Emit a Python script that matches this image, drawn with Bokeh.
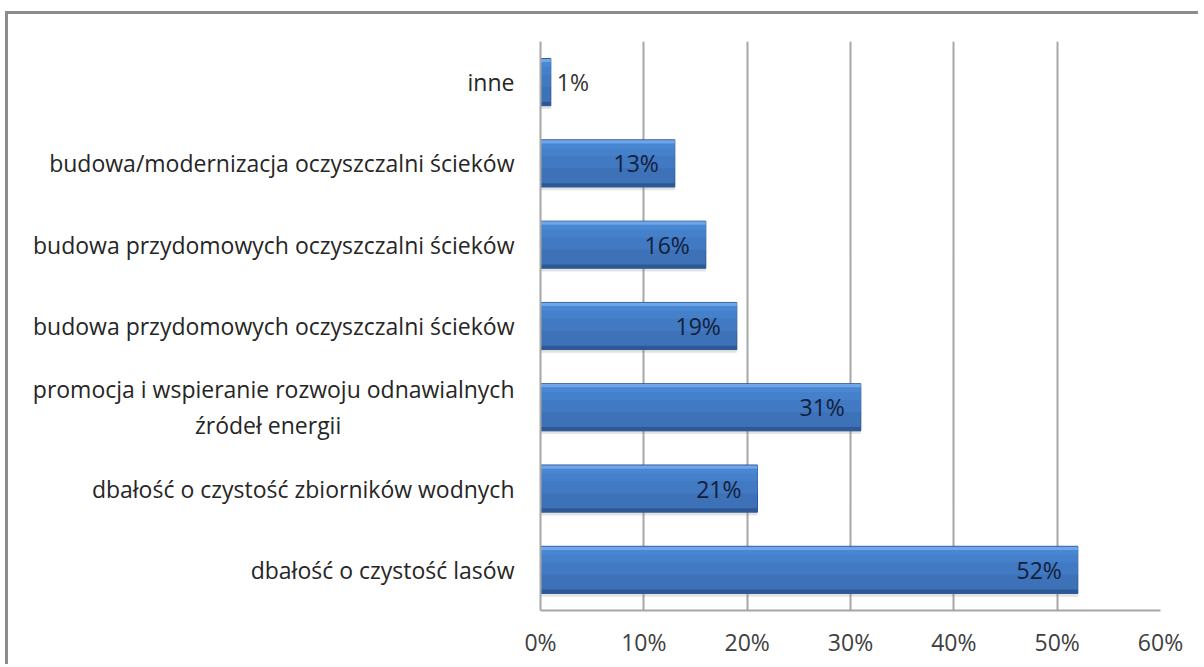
from bokeh.plotting import figure
from bokeh.models import Range1d, FixedTicker, ColumnDataSource
from bokeh.core.properties import value
from bokeh.transform import dodge
from bokeh.embed import file_html
from bokeh.resources import INLINE

# Data (top to bottom as in the picture)
categories = [
    "inne",
    "budowa/modernizacja oczyszczalni ścieków",
    "budowa przydomowych oczyszczalni ścieków",
    "budowa przydomowych oczyszczalni ścieków",
    "promocja i wspieranie rozwoju odnawialnych\nźródeł energii",
    "dbałość o czystość zbiorników wodnych",
    "dbałość o czystość lasów",
]
values = [1, 13, 16, 19, 31, 21, 52]
x_ticks = [0, 10, 20, 30, 40, 50, 60]

n = len(categories)
ypos = [n - 1 - i for i in range(n)]
labels = [f"{v}%" for v in values]

FONT = "Open Sans"
FS = "23px"
H = 0.58

p = figure(
    output_backend="svg", toolbar_location=None,
    width=1190, height=650,
    frame_width=620, frame_height=569,
    min_border_left=532, min_border_right=38, min_border_top=27, min_border_bottom=54,
    x_range=Range1d(0, 60), y_range=Range1d(-0.5, n - 0.5),
)
p.styles = {"border-left": "3px solid #8c8c8c", "border-top": "3px solid #8c8c8c",
            "margin-left": "5px", "margin-top": "11px"}
p.outline_line_color = None
p.background_fill_color = "white"
p.border_fill_color = "white"

src = ColumnDataSource(dict(y=ypos, v=values, lab=labels))

# shadow
p.hbar(y=dodge("y", -0.04, range=p.y_range), right="v", left=0, height=H, source=src,
       fill_color="#808080", fill_alpha=0.22, line_color=None)
# main bar body
p.hbar(y="y", right="v", left=0, height=H, source=src, fill_color="#3d72b9",
       line_color="#2d5892", line_width=1)
# gradient approximation strips
p.hbar(y=dodge("y", 0.04, range=p.y_range), right="v", left=0, height=0.2, source=src,
       fill_color="#4179c2", line_color=None)
p.hbar(y=dodge("y", 0.14, range=p.y_range), right="v", left=0, height=0.1, source=src,
       fill_color="#4580cb", line_color=None)
p.hbar(y=dodge("y", H / 2 - 0.075, range=p.y_range), right="v", left=0, height=0.06, source=src,
       fill_color="#4a87d3", line_color=None)
p.hbar(y=dodge("y", H / 2 - 0.025, range=p.y_range), right="v", left=0, height=0.04, source=src,
       fill_color="#6fa6ea", line_color=None)
p.hbar(y=dodge("y", -H / 2 + 0.025, range=p.y_range), right="v", left=0, height=0.045, source=src,
       fill_color="#2d5894", line_color=None)

# value labels
inside = ColumnDataSource(dict(y=[y for y, v in zip(ypos, values) if v >= 5],
                               v=[v for v in values if v >= 5],
                               lab=[l for l, v in zip(labels, values) if v >= 5]))
outside = ColumnDataSource(dict(y=[y for y, v in zip(ypos, values) if v < 5],
                                v=[v for v in values if v < 5],
                                lab=[l for l, v in zip(labels, values) if v < 5]))
p.text(x="v", y="y", text="lab", source=inside, text_align="right", text_baseline="middle",
       x_offset=-16, text_font=value(FONT), text_font_size=FS, text_color="#13203a")
p.text(x="v", y="y", text="lab", source=outside, text_align="left", text_baseline="middle",
       x_offset=6, text_font=value(FONT), text_font_size=FS, text_color="#333333")

# axes
p.xaxis.ticker = FixedTicker(ticks=x_ticks)
p.xaxis.major_label_overrides = {t: f"{t}%" for t in x_ticks}
p.xaxis.major_tick_line_color = None
p.xaxis.minor_tick_line_color = None
p.xaxis.axis_line_color = "#a6a6a6"
p.xaxis.axis_line_width = 2
p.xaxis.major_label_text_font = FONT
p.xaxis.major_label_text_font_size = FS
p.xaxis.major_label_text_color = "#404040"
p.xaxis.major_label_standoff = 9

# y axis labels; second line of a two-line label padded so it sits centred under the first
overrides = {}
for y, c in zip(ypos, categories):
    parts = c.split("\n")
    if len(parts) > 1:
        overrides[y] = parts[0] + "\n" + parts[1] + "\u00a0" * 29
    else:
        overrides[y] = c
p.yaxis.ticker = FixedTicker(ticks=ypos)
p.yaxis.major_label_overrides = overrides
p.yaxis.major_tick_line_color = None
p.yaxis.minor_tick_line_color = None
p.yaxis.axis_line_color = "#a6a6a6"
p.yaxis.axis_line_width = 2
p.yaxis.major_label_text_font = FONT
p.yaxis.major_label_text_font_size = FS
p.yaxis.major_label_text_color = "#262626"
p.yaxis.major_label_text_line_height = 1.13
p.yaxis.major_label_standoff = 20

p.xgrid.ticker = FixedTicker(ticks=x_ticks)
p.xgrid.grid_line_color = "#a6a6a6"
p.xgrid.grid_line_width = 2
p.ygrid.grid_line_color = None

open("out.html", "w").write(file_html(p, INLINE))
